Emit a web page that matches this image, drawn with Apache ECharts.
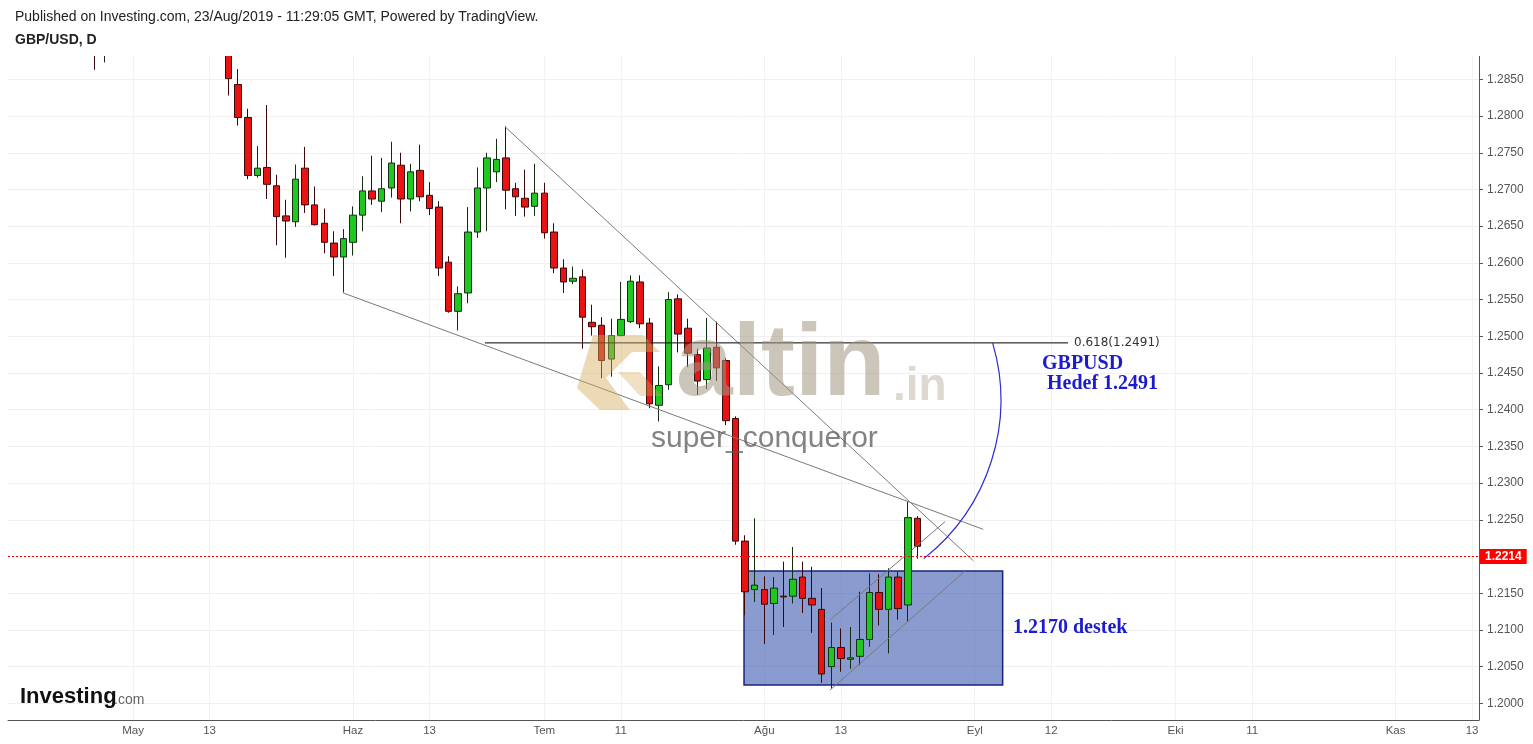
<!DOCTYPE html>
<html><head><meta charset="utf-8">
<script src="https://cdn.jsdelivr.net/npm/echarts@6/dist/echarts.min.js"></script>
<style>html,body{margin:0;padding:0;background:#fff}#c{width:1533px;height:744px}</style>
</head><body><div id="c"></div>
<script>
// ---- data (GBP/USD daily) ----
const dates = [
 '2019-04-12','2019-04-15','2019-04-16','2019-04-17','2019-04-18','2019-04-19','2019-04-22','2019-04-23','2019-04-24','2019-04-25','2019-04-26','2019-04-29','2019-04-30',
 '2019-05-01','2019-05-02','2019-05-03','2019-05-06','2019-05-07','2019-05-08','2019-05-09','2019-05-10','2019-05-13','2019-05-14',
 '2019-05-15','2019-05-16','2019-05-17','2019-05-20','2019-05-21','2019-05-22','2019-05-23','2019-05-24','2019-05-27','2019-05-28','2019-05-29','2019-05-30','2019-05-31',
 '2019-06-03','2019-06-04','2019-06-05','2019-06-06','2019-06-07','2019-06-10','2019-06-11','2019-06-12','2019-06-13','2019-06-14','2019-06-17','2019-06-18','2019-06-19','2019-06-20','2019-06-21','2019-06-24','2019-06-25','2019-06-26','2019-06-27','2019-06-28',
 '2019-07-01','2019-07-02','2019-07-03','2019-07-04','2019-07-05','2019-07-08','2019-07-09','2019-07-10','2019-07-11','2019-07-12','2019-07-15','2019-07-16','2019-07-17','2019-07-18','2019-07-19','2019-07-22','2019-07-23','2019-07-24','2019-07-25','2019-07-26','2019-07-29','2019-07-30','2019-07-31',
 '2019-08-01','2019-08-02','2019-08-05','2019-08-06','2019-08-07','2019-08-08','2019-08-09','2019-08-12','2019-08-13','2019-08-14','2019-08-15','2019-08-16','2019-08-19','2019-08-20','2019-08-21','2019-08-22','2019-08-23'
];
const opens = [
 1.3070,1.3087,1.3085,1.3045,1.3040,1.2990,1.2995,1.3005,1.2945,1.2910,1.2895,1.2920,1.2965,
 1.3045,1.3040,1.3040,1.3170,1.3150,1.3085,1.3015,1.3000,1.3005,1.2955,
 1.2905,1.2843,1.2798,1.2719,1.2730,1.2705,1.2664,1.2656,1.2729,1.2679,1.2654,1.2627,1.2608,
 1.2628,1.2665,1.2698,1.2684,1.2702,1.2733,1.2687,1.2726,1.2692,1.2676,1.2601,1.2534,1.2559,1.2642,1.2702,1.2724,1.2743,1.2701,1.2688,1.2677,
 1.2695,1.2642,1.2593,1.2575,1.2581,1.2519,1.2515,1.2469,1.2501,1.2520,1.2574,1.2518,1.2406,1.2434,1.2551,1.2511,1.2475,1.2441,1.2485,1.2467,1.2388,1.2221,1.2155,
 1.2155,1.2136,1.2146,1.2146,1.2172,1.2143,1.2128,1.2050,1.2076,1.2060,1.2064,1.2087,1.2151,1.2128,1.2172,1.2134,1.2252
];
const highs = [
 1.3132,1.3121,1.3122,1.3073,1.3050,1.3005,1.3020,1.3010,1.2965,1.2930,1.2945,1.2980,1.3075,
 1.3105,1.3060,1.3180,1.3200,1.3170,1.3105,1.3030,1.3030,1.3020,1.2970,
 1.2925,1.2864,1.2810,1.2759,1.2815,1.2720,1.2686,1.2734,1.2758,1.2704,1.2674,1.2643,1.2646,
 1.2677,1.2718,1.2746,1.2743,1.2765,1.2750,1.2735,1.2761,1.2710,1.2684,1.2609,1.2568,1.2676,1.2730,1.2750,1.2769,1.2786,1.2709,1.2727,1.2735,
 1.2709,1.2654,1.2605,1.2595,1.2591,1.2543,1.2526,1.2524,1.2574,1.2583,1.2583,1.2525,1.2459,1.2560,1.2557,1.2524,1.2483,1.2525,1.2520,1.2470,1.2391,1.2229,1.2252,
 1.2173,1.2172,1.2193,1.2213,1.2193,1.2186,1.2157,1.2110,1.2102,1.2104,1.2152,1.2177,1.2176,1.2184,1.2179,1.2275,1.2255
];
const lows = [
 1.3060,1.3068,1.3040,1.3030,1.2980,1.2985,1.2975,1.2930,1.2900,1.2863,1.2873,1.2905,1.2950,
 1.3010,1.2985,1.3030,1.3100,1.3080,1.3000,1.2970,1.2990,1.2930,1.2890,
 1.2828,1.2787,1.2714,1.2716,1.2687,1.2624,1.2607,1.2649,1.2668,1.2651,1.2613,1.2582,1.2560,
 1.2610,1.2643,1.2679,1.2669,1.2689,1.2654,1.2670,1.2684,1.2665,1.2582,1.2532,1.2508,1.2545,1.2634,1.2643,1.2710,1.2673,1.2664,1.2663,1.2664,
 1.2633,1.2586,1.2559,1.2571,1.2483,1.2501,1.2443,1.2445,1.2500,1.2518,1.2511,1.2402,1.2384,1.2427,1.2478,1.2458,1.2420,1.2428,1.2439,1.2379,1.2216,1.2120,1.2138,
 1.2081,1.2093,1.2104,1.2136,1.2123,1.2096,1.2028,1.2020,1.2043,1.2047,1.2052,1.2077,1.2106,1.2068,1.2114,1.2111,1.2197
];
const closes = [
 1.3087,1.3085,1.3045,1.3040,1.2990,1.2995,1.3005,1.2945,1.2910,1.2895,1.2920,1.2965,1.3045,
 1.3040,1.3040,1.3170,1.3150,1.3085,1.3015,1.3000,1.3005,1.2955,1.2905,
 1.2851,1.2798,1.2719,1.2729,1.2707,1.2663,1.2657,1.2714,1.2679,1.2652,1.2628,1.2608,1.2633,
 1.2665,1.2698,1.2687,1.2701,1.2736,1.2687,1.2724,1.2690,1.2674,1.2593,1.2534,1.2558,1.2642,1.2702,1.2743,1.2741,1.2699,1.2690,1.2676,1.2695,
 1.2641,1.2593,1.2574,1.2579,1.2526,1.2513,1.2467,1.2501,1.2523,1.2575,1.2517,1.2408,1.2433,1.2550,1.2503,1.2477,1.2439,1.2484,1.2457,1.2385,1.2221,1.2152,1.2161,
 1.2135,1.2157,1.2145,1.2169,1.2143,1.2134,1.2040,1.2076,1.2061,1.2062,1.2087,1.2151,1.2128,1.2172,1.2129,1.2253,1.2214
];
const tickDates  = ['2019-05-01','2019-05-13','2019-06-03','2019-06-13','2019-07-01','2019-07-11','2019-08-01','2019-08-13','2019-09-02','2019-09-12','2019-10-01','2019-10-11','2019-11-01','2019-11-13'];
const tickLabels = ['May','13','Haz','13','Tem','11','Ağu','13','Eyl','12','Eki','11','Kas','13'];
const priceTicks = [1.2000,1.2050,1.2100,1.2150,1.2200,1.2250,1.2300,1.2350,1.2400,1.2450,1.2500,1.2550,1.2600,1.2650,1.2700,1.2750,1.2800,1.2850];
const lastPrice = 1.2214;
const fibLevel = 1.2491;
const fibLabel = '0.618(1.2491)';
// drawings, in [trading-day index from 1 May 2019, price]
const supportLine    = [[21.92,1.25593],[88.89,1.22370]];
const resistLine     = [[38.89,1.27855],[87.85,1.21943]];
const channelUpper   = [[72.87,1.21135],[84.89,1.22474]];
const channelLower   = [[72.87,1.20181],[86.98,1.21802]];
const fibLine        = [[36.80,fibLevel],[97.75,fibLevel]];
const supportBox     = [[63.88,1.21802],[90.92,1.20249]];
const arcCenter = [69.63,1.24132], arcStart = [89.87,1.2491], arcEnd = [82.80,1.21952];

// trading-day index (weekdays) relative to 2019-05-01
function tradingIndex(s){
  const day=86400000, t=Date.parse(s+'T00:00:00Z'), b=Date.UTC(2019,4,1);
  let n=0;
  if(t>=b){ for(let x=b;x<t;x+=day){const w=new Date(x+day).getUTCDay(); if(w!==0&&w!==6) n++;} }
  else { for(let x=b;x>t;x-=day){const w=new Date(x).getUTCDay(); if(w!==0&&w!==6) n--;} }
  return n;
}
const tickIdx = tickDates.map(tradingIndex);
const labelOf = {}; tickIdx.forEach((v,k)=>labelOf[v]=tickLabels[k]);
const source = dates.map((d,k)=>[tradingIndex(d), opens[k], closes[k], lows[k], highs[k]]);

const FONT = 'Liberation Sans, Arial, sans-serif';
const chart = echarts.init(document.getElementById('c'), null, {renderer:'canvas'});
const trend = (data, color) => ({
  type:'line', data, symbol:'none', silent:true, z:3, animation:false,
  lineStyle:{color, width:1}
});
chart.setOption({
  animation:false,
  backgroundColor:'#fff',
  grid:{left:8, right:54, top:56, bottom:24},
  dataset:{source},
  xAxis:{
    type:'value', min:-13.07, max:140.72,
    axisLine:{show:true, onZero:false, lineStyle:{color:'#555'}},
    axisTick:{show:false, customValues:tickIdx},
    axisLabel:{customValues:tickIdx, formatter:v=>labelOf[Math.round(v)]||'', color:'#555', fontSize:11.5, fontFamily:FONT, margin:5},
    splitLine:{show:true, customValues:tickIdx, lineStyle:{color:'#f2f2f2'}}
  },
  yAxis:{
    type:'value', position:'right', min:1.19773, max:1.28818, scale:true,
    axisLine:{show:true, onZero:false, lineStyle:{color:'#555'}},
    axisTick:{show:true, length:4, customValues:priceTicks, lineStyle:{color:'#555'}},
    axisLabel:{customValues:priceTicks, formatter:v=>v.toFixed(4), color:'#555', fontSize:12, fontFamily:FONT, margin:8},
    splitLine:{show:true, customValues:priceTicks, lineStyle:{color:'#f0f0f0'}}
  },
  series:[
    {
      type:'candlestick', encode:{x:0, y:[1,2,3,4]}, barWidth:7, z:2,
      itemStyle:{color:'#1ec81e', color0:'#e81414', borderColor:'#132e13', borderColor0:'#3a0808', borderWidth:1},
      markArea:{silent:true, itemStyle:{color:'rgba(21,55,160,0.5)', borderColor:'#1a237e', borderWidth:1.5},
        data:[[{coord:supportBox[0]},{coord:supportBox[1]}]]},
      markLine:{silent:true, symbol:['none','none'], animation:false,
        lineStyle:{color:'#ff0000', type:[2,2], width:1},
        label:{position:'end', formatter:lastPrice.toFixed(4), backgroundColor:'#ff0000', color:'#fff', fontWeight:'bold', fontSize:12, fontFamily:FONT, padding:[2,5,1,5], distance:1},
        data:[{yAxis:lastPrice}]}
    },
    trend(supportLine,'#7a7a7a'),
    trend(resistLine,'#7a7a7a'),
    trend(channelUpper,'#7a7a7a'),
    trend(channelLower,'#7a7a7a'),
    Object.assign(trend(fibLine,'#000000'),{endLabel:{show:true, formatter:fibLabel, color:'#333', fontSize:12, fontFamily:'DejaVu Sans', distance:6}})
  ]
});

const P = p => chart.convertToPixel({gridIndex:0}, p);
const c = P(arcCenter), s = P(arcStart), e = P(arcEnd);
const r = Math.hypot(s[0]-c[0], s[1]-c[1]);
const a0 = Math.atan2(s[1]-c[1], s[0]-c[0]), a1 = Math.atan2(e[1]-c[1], e[0]-c[0]);
const txt = (x,y,text,font,fill,z) => ({type:'text', x, y, z:z||60, silent:true,
  style:{text, font, fill, align:'left', verticalAlign:'middle', textAlign:'left', textVerticalAlign:'middle'}});
chart.setOption({graphic:[
  // watermark
  {type:'polygon', z:50, silent:true, shape:{points:[[593,335],[643,335],[660,352],[632,352],[606,378],[630,410],[600,410],[577,388]]}, style:{fill:'rgba(212,170,90,0.45)'}},
  {type:'polygon', z:50, silent:true, shape:{points:[[618,372],[640,372],[662,396],[640,396]]}, style:{fill:'rgba(212,170,90,0.35)'}},
  txt(676,367,'altin','bold 102px '+FONT,'rgba(160,150,130,0.55)',50),
  txt(893,387,'.in','bold 46px '+FONT,'rgba(170,160,140,0.4)',50),
  txt(651,439,'super_conqueror','30px '+FONT,'rgba(90,90,90,0.75)',50),
  // arc
  {type:'arc', z:40, silent:true, shape:{cx:c[0], cy:c[1], r, startAngle:a0, endAngle:a1, clockwise:true}, style:{stroke:'#2d2dd6', fill:null, lineWidth:1.2}},
  // annotations
  txt(1042,364,'GBPUSD','bold 20px Liberation Serif, Times New Roman, serif','#1c1ccc'),
  txt(1047,384,'Hedef 1.2491','bold 20px Liberation Serif, Times New Roman, serif','#1c1ccc'),
  txt(1013,628,'1.2170 destek','bold 20px Liberation Serif, Times New Roman, serif','#1c1ccc'),
  // header cover + titles
  {type:'rect', z:90, silent:true, shape:{x:0,y:0,width:1533,height:56}, style:{fill:'#ffffff'}},
  txt(15,17,'Published on Investing.com, 23/Aug/2019 - 11:29:05 GMT, Powered by TradingView.','14px '+FONT,'#222',100),
  txt(15,40,'GBP/USD, D','bold 14px '+FONT,'#222',100),
  // logo
  txt(20,697,'Investing','bold 22px '+FONT,'#111',100),
  txt(114,700,'.com','14px '+FONT,'#666',100)
]});
</script></body></html>
